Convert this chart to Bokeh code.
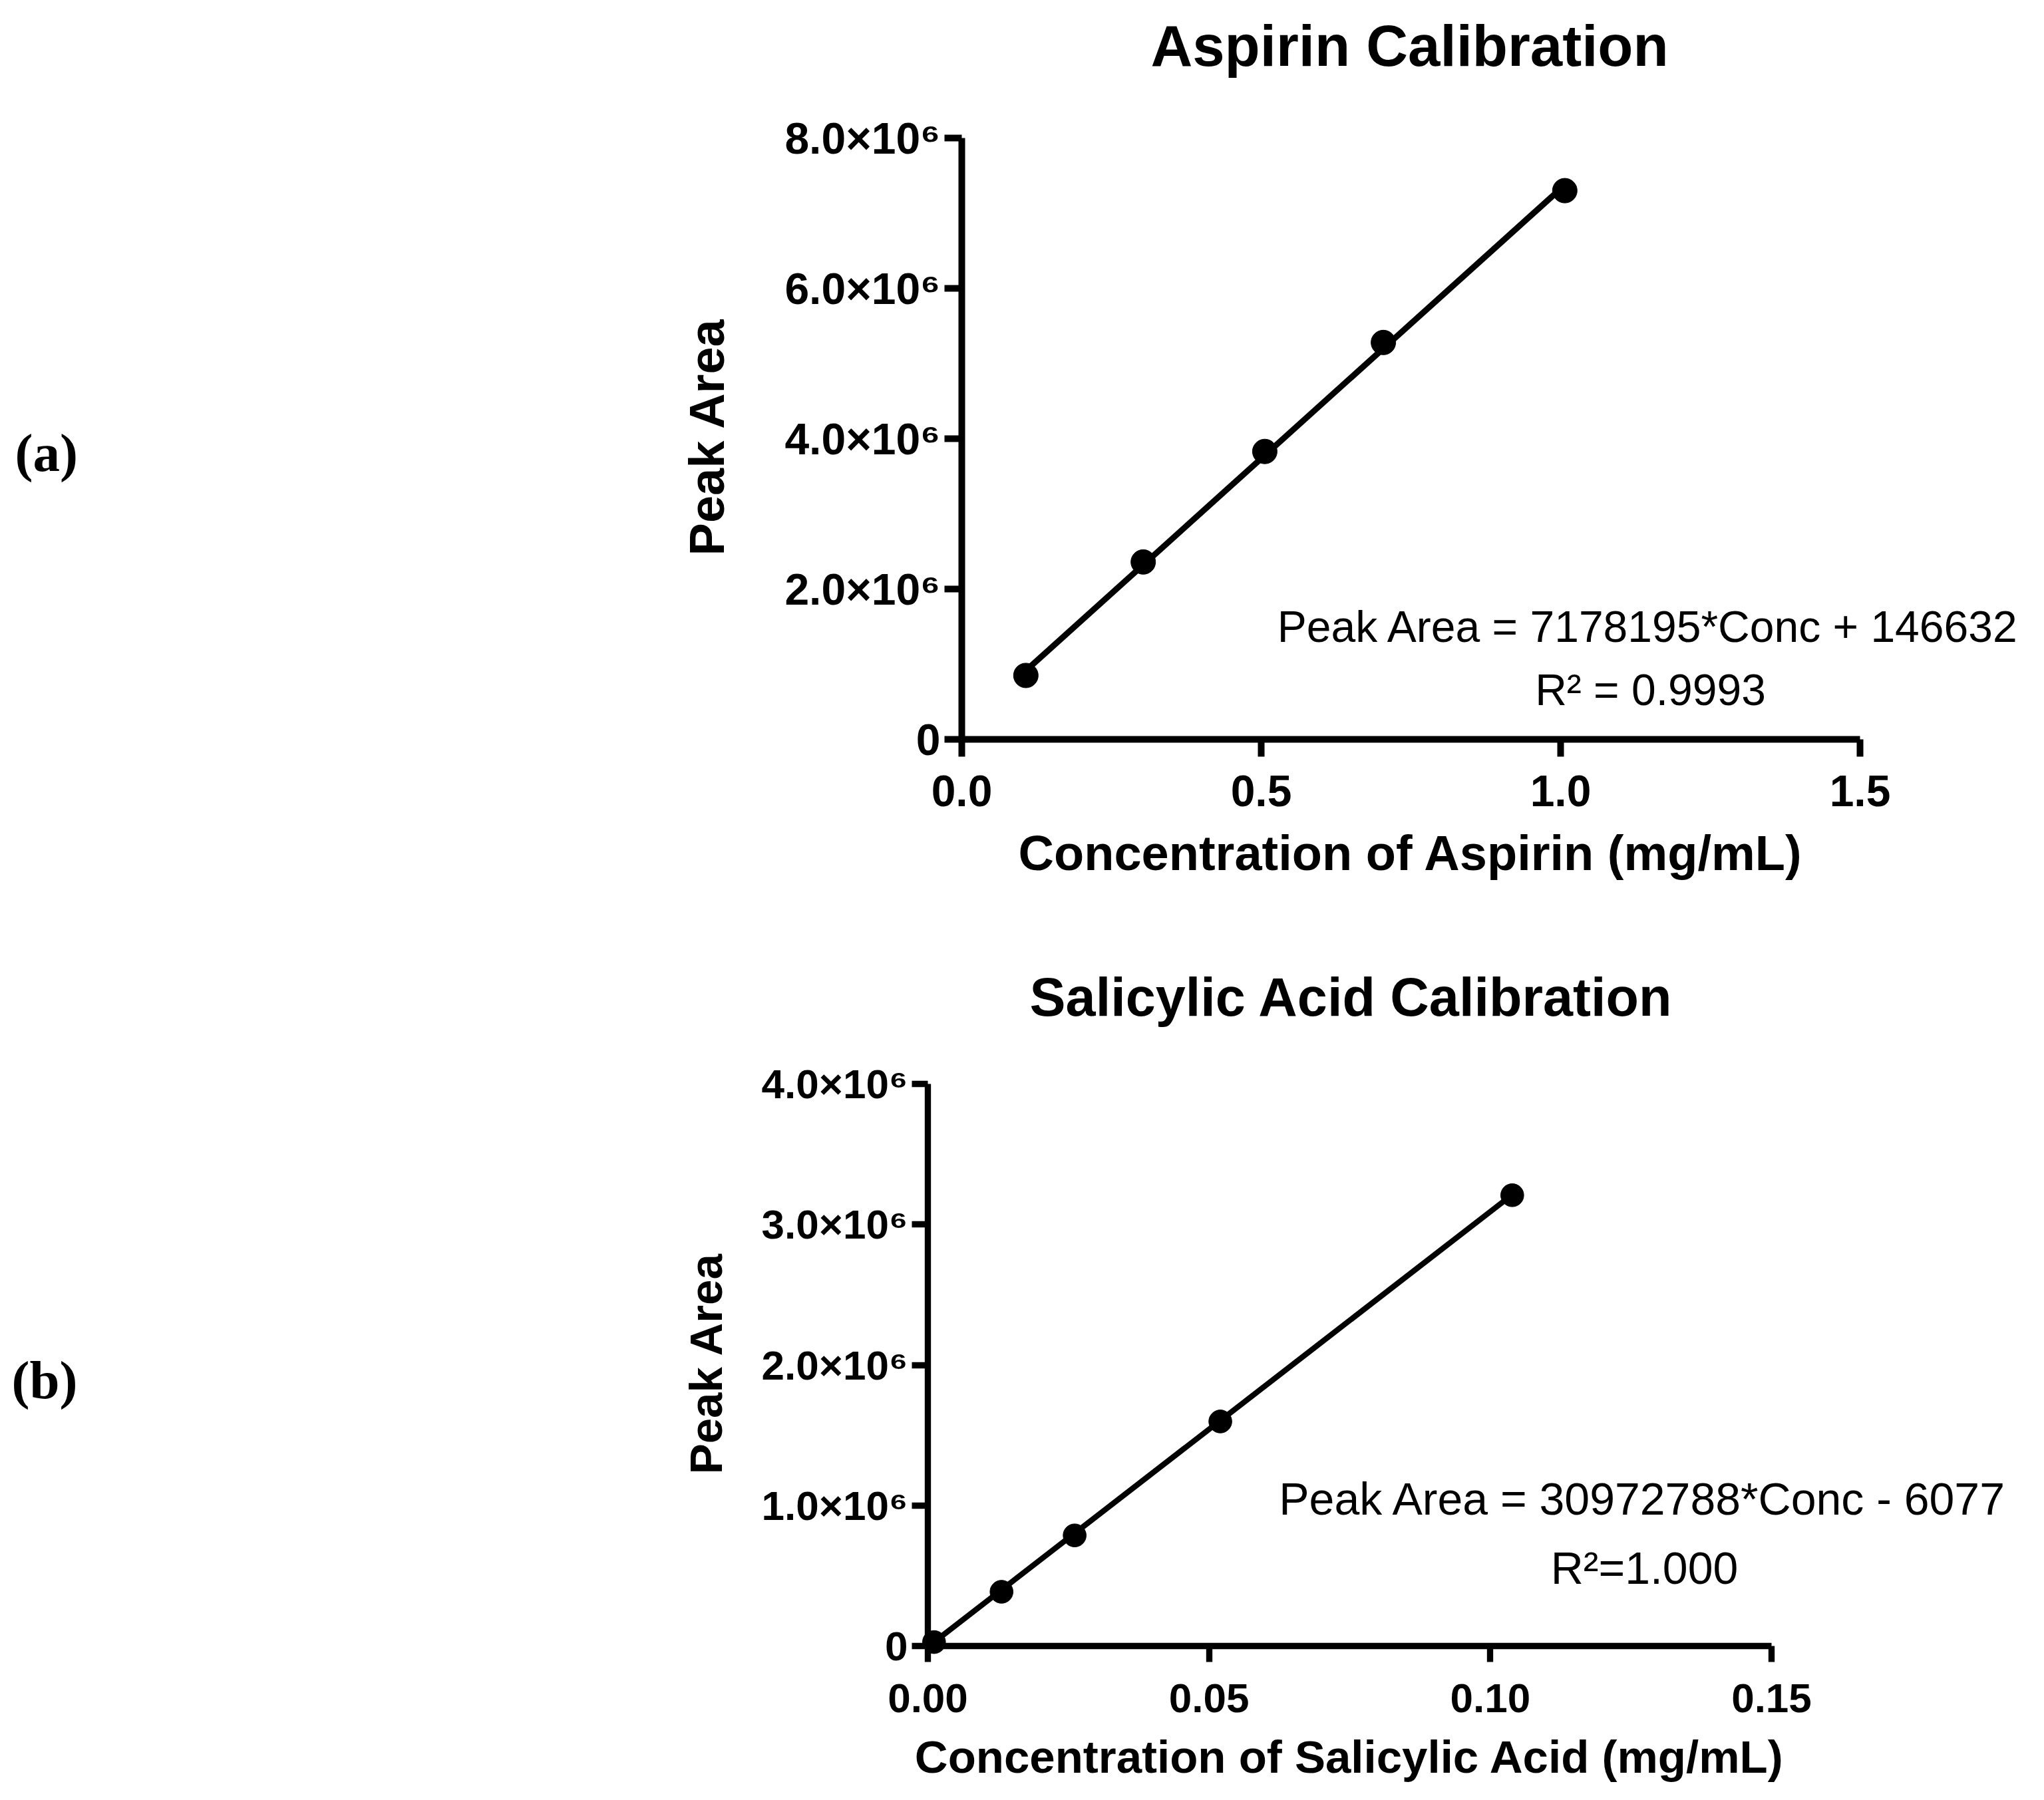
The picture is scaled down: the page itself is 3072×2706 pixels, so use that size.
import math
from bokeh.plotting import figure
from bokeh.models import Range1d, FixedTicker, Label
from bokeh.layouts import column
from bokeh.embed import file_html
from bokeh.resources import INLINE

# ---------------- data ----------------
asp_conc = [0.107, 0.303, 0.506, 0.704, 1.007]
asp_area = [0.85e6, 2.36e6, 3.83e6, 5.28e6, 7.30e6]
asp_slope = 7178195
asp_intercept = 146632
asp_xticks = [0.0, 0.5, 1.0, 1.5]
asp_xlabels = ["0.0", "0.5", "1.0", "1.5"]
asp_yticks = [0.0, 2e6, 4e6, 6e6, 8e6]
asp_ylabels = ["0", "2.0×10⁶", "4.0×10⁶", "6.0×10⁶", "8.0×10⁶"]
asp_title = "Aspirin Calibration"
asp_xtitle = "Concentration of Aspirin (mg/mL)"
asp_eq = "Peak Area = 7178195*Conc + 146632"
asp_r2 = "R² = 0.9993"

sal_conc = [0.0011, 0.0131, 0.0261, 0.0520, 0.1039]
sal_area = [0.028e6, 0.386e6, 0.787e6, 1.598e6, 3.208e6]
sal_slope = 30972788
sal_intercept = -6077
sal_xticks = [0.0, 0.05, 0.10, 0.15]
sal_xlabels = ["0.00", "0.05", "0.10", "0.15"]
sal_yticks = [0.0, 1e6, 2e6, 3e6, 4e6]
sal_ylabels = ["0", "1.0×10⁶", "2.0×10⁶", "3.0×10⁶", "4.0×10⁶"]
sal_title = "Salicylic Acid Calibration"
sal_xtitle = "Concentration of Salicylic Acid (mg/mL)"
sal_eq = "Peak Area = 30972788*Conc - 6077"
sal_r2 = "R²=1.000"

ytitle = "Peak Area"

FONT = "Liberation Sans"
SERIF = "Liberation Serif"
W = 3064
BASE_SHIFT = 0.35  # correction of the rendered baseline, as a fraction of font size


def make_chart(cfg):
    H = cfg["height"]
    X0, SX, Y0, SY = cfg["x0"], cfg["sx"], cfg["y0"], cfg["sy"]
    xr = Range1d(-X0 / SX, (W - X0) / SX)
    yr = Range1d((Y0 - H) / SY, Y0 / SY)
    p = figure(width=W, height=H, output_backend="svg", toolbar_location=None,
               x_range=xr, y_range=yr, min_border=0,
               min_border_left=0, min_border_right=0,
               min_border_top=0, min_border_bottom=0)
    p.outline_line_color = None
    p.grid.visible = False
    p.background_fill_color = "white"
    p.border_fill_color = "white"

    def dx(px):
        return (px - X0) / SX

    def dy(py):
        return (Y0 - py) / SY

    k = cfg["k"]
    for ax, ticks, labels in ((p.xaxis[0], cfg["xticks"], cfg["xlabels"]),
                              (p.yaxis[0], cfg["yticks"], cfg["ylabels"])):
        ax.ticker = FixedTicker(ticks=ticks)
        ax.major_label_overrides = {t: l for t, l in zip(ticks, labels)}
        ax.bounds = (ticks[0], ticks[-1])
        ax.fixed_location = 0
        ax.axis_line_width = 10 * k
        ax.axis_line_color = "black"
        ax.major_tick_line_width = 10 * k
        ax.major_tick_line_color = "black"
        ax.major_tick_in = 0
        ax.major_tick_out = round(26 * k)
        ax.minor_tick_in = 0
        ax.minor_tick_out = 0
        ax.major_label_text_font = FONT
        ax.major_label_text_font_style = "bold"
        ax.major_label_text_font_size = "%dpx" % round(66 * k)
        ax.major_label_text_color = "black"
    p.xaxis.major_label_standoff = cfg["xstand"]
    p.yaxis.major_label_standoff = round(6 * k)

    fx = [min(cfg["conc"]), max(cfg["conc"])]
    fy = [cfg["slope"] * v + cfg["intercept"] for v in fx]
    p.line(fx, fy, line_width=9 * k, line_color="black")
    p.scatter(cfg["conc"], cfg["area"], marker="circle", size=37 * k,
              fill_color="black", line_color="black")

    def lab(text, px, py, size, style="normal", font=FONT, align="center", rotated=False):
        s = BASE_SHIFT * size
        if rotated:
            px -= s
        else:
            py -= s
        p.add_layout(Label(x=dx(px), y=dy(py), text=text, text_font=font,
                           text_font_style=style, text_font_size="%dpx" % size,
                           text_align=align, text_baseline="alphabetic",
                           text_color="black", angle=math.pi / 2 if rotated else 0.0))

    t = cfg["txt"]
    lab(cfg["title"], *t["title"], style="bold")
    lab(cfg["xtitle"], *t["xtitle"], style="bold")
    lab(ytitle, *t["ytitle"], style="bold", rotated=True)
    lab(cfg["eq"], *t["eq"])
    lab(cfg["r2"], *t["r2"])
    lab(cfg["tag"], *t["tag"], style="bold", font=SERIF, align="left")
    return p


H1 = 1390
H2 = 1310
cfg1 = dict(height=H1, x0=1445, sx=900.0, y0=1111, sy=904 / 8e6, k=1.0, xstand=28,
            conc=asp_conc, area=asp_area, slope=asp_slope, intercept=asp_intercept,
            xticks=asp_xticks, xlabels=asp_xlabels, yticks=asp_yticks, ylabels=asp_ylabels,
            title=asp_title, xtitle=asp_xtitle, eq=asp_eq, r2=asp_r2, tag="(a)",
            txt=dict(title=(2118, 98, 87), xtitle=(2120, 1308, 74), ytitle=(1088, 656, 74),
                     eq=(2477, 965, 66), r2=(2480, 1060, 66), tag=(22, 709, 81)))

off = H1
cfg2 = dict(height=H2, x0=1394, sx=1268 / 0.15, y0=2474 - off, sy=845 / 4e6, k=0.935, xstand=33,
            conc=sal_conc, area=sal_area, slope=sal_slope, intercept=sal_intercept,
            xticks=sal_xticks, xlabels=sal_xlabels, yticks=sal_yticks, ylabels=sal_ylabels,
            title=sal_title, xtitle=sal_xtitle, eq=sal_eq, r2=sal_r2, tag="(b)",
            txt=dict(title=(2031, 1527 - off, 81), xtitle=(2028, 2665 - off, 69),
                     ytitle=(1085, 2049 - off, 69), eq=(2469, 2276 - off, 68),
                     r2=(2471, 2380 - off, 68), tag=(17, 2103 - off, 81)))

p1 = make_chart(cfg1)
p2 = make_chart(cfg2)

layout = column(p1, p2, spacing=0)
open("out.html", "w").write(file_html(layout, INLINE))
